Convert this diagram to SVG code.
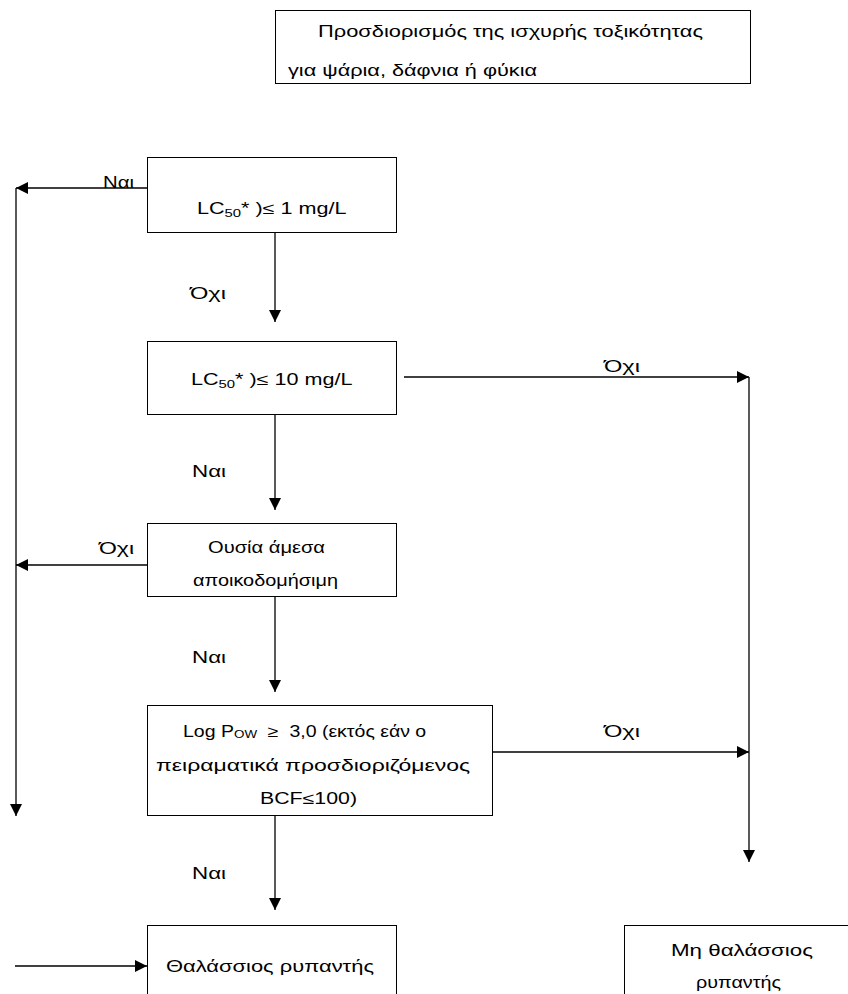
<svg xmlns="http://www.w3.org/2000/svg" width="848" height="994" viewBox="0 0 848 994">
<style>
.box{fill:#fff;stroke:#000;stroke-width:1}
.t{font-family:"Liberation Sans",Arial,sans-serif;font-size:16px;fill:#000}
.ln{stroke:#000;stroke-width:1.3;fill:none}
</style>
<defs>
<marker id="ah" markerUnits="userSpaceOnUse" markerWidth="14" markerHeight="14" refX="12" refY="6" orient="auto">
<path d="M0,0 L12,6 L0,12 Z" fill="#000"/>
</marker>
</defs>
<rect width="848" height="994" fill="#fff"/>
<g id="n-top">
<rect class="box" x="275.5" y="10.5" width="475" height="73"/>
<text class="t" x="318" y="37" textLength="385" lengthAdjust="spacingAndGlyphs">Προσδιορισμός της ισχυρής τοξικότητας</text>
<text class="t" x="288" y="76" textLength="249" lengthAdjust="spacingAndGlyphs">για ψάρια, δάφνια ή φύκια</text>
</g>
<g id="n-lc1">
<rect class="box" x="147.5" y="157.5" width="249" height="75"/>
<text class="t" transform="matrix(1.35 0 0 1 197 0)" x="0" y="214">LC<tspan font-size="11" dy="3">50</tspan><tspan dy="-3">* )≤ 1 mg/L</tspan></text>
</g>
<g id="n-lc10">
<rect class="box" x="147.5" y="341.5" width="249" height="73"/>
<text class="t" transform="matrix(1.35 0 0 1 191 0)" x="0" y="385">LC<tspan font-size="11" dy="3">50</tspan><tspan dy="-3">* )≤ 10 mg/L</tspan></text>
</g>
<g id="n-deg">
<rect class="box" x="147.5" y="523.5" width="249" height="73"/>
<text class="t" x="208" y="553" textLength="117" lengthAdjust="spacingAndGlyphs">Ουσία άμεσα</text>
<text class="t" x="193" y="586" textLength="145" lengthAdjust="spacingAndGlyphs">αποικοδομήσιμη</text>
</g>
<g id="n-logp">
<rect class="box" x="147.5" y="705.5" width="345" height="110"/>
<text class="t" transform="matrix(1.22 0 0 1 183 0)" x="0" y="737" xml:space="preserve">Log P<tspan font-size="11" dy="1">OW</tspan><tspan dy="-1">  ≥  3,0 (εκτός εάν ο</tspan></text>
<text class="t" x="156" y="771" textLength="314" lengthAdjust="spacingAndGlyphs">πειραματικά προσδιοριζόμενος</text>
<text class="t" x="260" y="804" textLength="97" lengthAdjust="spacingAndGlyphs">BCF≤100)</text>
</g>
<g id="n-mp">
<rect class="box" x="147.5" y="925.5" width="249" height="100"/>
<text class="t" x="166" y="972" textLength="208" lengthAdjust="spacingAndGlyphs">Θαλάσσιος ρυπαντής</text>
</g>
<g id="n-nmp">
<rect class="box" x="624.5" y="925.5" width="240" height="100"/>
<text class="t" x="671" y="956" textLength="142" lengthAdjust="spacingAndGlyphs">Μη θαλάσσιος</text>
<text class="t" x="696" y="988" textLength="85" lengthAdjust="spacingAndGlyphs">ρυπαντής</text>
</g>
<g id="connectors">
<path class="ln" d="M147,188 H16" marker-end="url(#ah)"/>
<path class="ln" d="M16,188 V816" marker-end="url(#ah)"/>
<path class="ln" d="M275,232 V322" marker-end="url(#ah)"/>
<path class="ln" d="M404,377 H749" marker-end="url(#ah)"/>
<path class="ln" d="M749,377 V862" marker-end="url(#ah)"/>
<path class="ln" d="M275,414 V510" marker-end="url(#ah)"/>
<path class="ln" d="M147,565 H16" marker-end="url(#ah)"/>
<path class="ln" d="M275,597 V692" marker-end="url(#ah)"/>
<path class="ln" d="M493,752 H749" marker-end="url(#ah)"/>
<path class="ln" d="M275,815 V910" marker-end="url(#ah)"/>
<path class="ln" d="M15,966 H147" marker-end="url(#ah)"/>
<text class="t" x="103" y="188" textLength="31" lengthAdjust="spacingAndGlyphs">Ναι</text>
<text class="t" x="190" y="299" textLength="36" lengthAdjust="spacingAndGlyphs">Όχι</text>
<text class="t" x="604" y="372" textLength="36" lengthAdjust="spacingAndGlyphs">Όχι</text>
<text class="t" x="192" y="477" textLength="34" lengthAdjust="spacingAndGlyphs">Ναι</text>
<text class="t" x="99" y="554" textLength="35" lengthAdjust="spacingAndGlyphs">Όχι</text>
<text class="t" x="192" y="663" textLength="34" lengthAdjust="spacingAndGlyphs">Ναι</text>
<text class="t" x="604" y="737" textLength="36" lengthAdjust="spacingAndGlyphs">Όχι</text>
<text class="t" x="192" y="879" textLength="34" lengthAdjust="spacingAndGlyphs">Ναι</text>
</g>
</svg>
